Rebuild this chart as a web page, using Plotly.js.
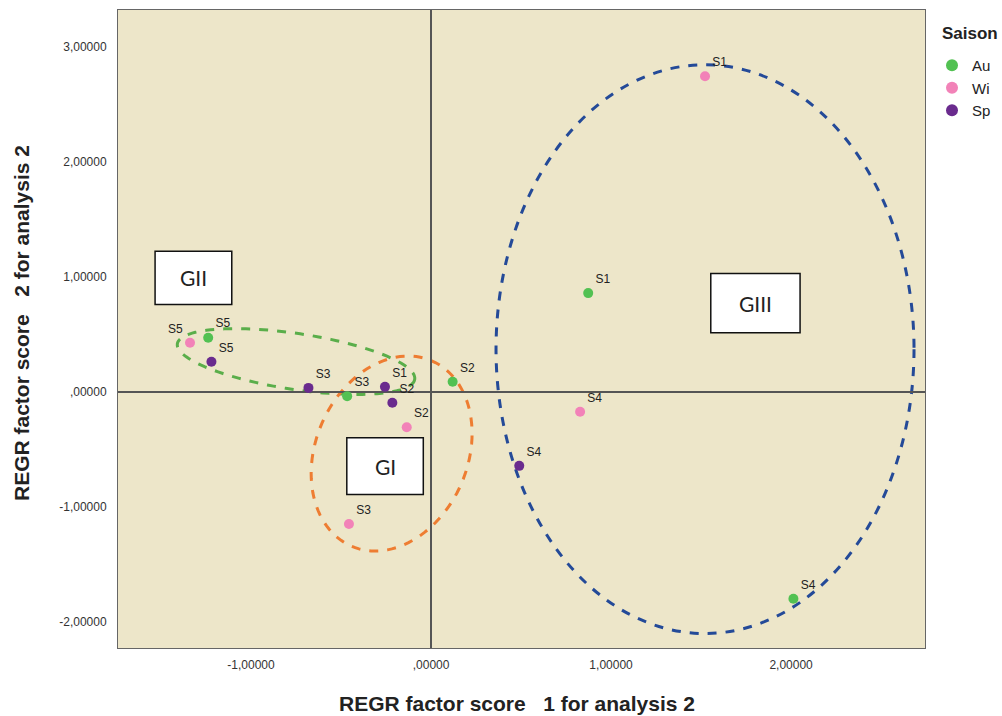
<!DOCTYPE html>
<html><head><meta charset="utf-8">
<script src="https://cdn.plot.ly/plotly-3.0.1.min.js"></script>
<style>body{margin:0;background:#fff}#chart{width:1002px;height:716px}</style>
</head><body><div id="chart"></div>
<script>
// ---- data ----
const seasons = ['Au', 'Wi', 'Sp'];
const siteLabels = ['S1', 'S2', 'S3', 'S4', 'S5'];
const auX = [0.873, 0.120, -0.466, 2.013, -1.238];
const auY = [0.860, 0.089, -0.036, -1.798, 0.472];
const wiX = [1.522, -0.135, -0.456, 0.828, -1.339];
const wiY = [2.746, -0.306, -1.147, -0.172, 0.428];
const spX = [-0.256, -0.215, -0.681, 0.490, -1.220];
const spY = [0.045, -0.094, 0.036, -0.642, 0.263];
const xTickVals = [-1, 0, 1, 2];
const xTickText = ['-1,00000', ',00000', '1,00000', '2,00000'];
const yTickVals = [-2, -1, 0, 1, 2, 3];
const yTickText = ['-2,00000', '-1,00000', ',00000', '1,00000', '2,00000', '3,00000'];
const groupNames = ['GI', 'GII', 'GIII'];
const legendTitle = 'Saison';

// ---- layout geometry ----
const W = 1002, H = 716;
const M = {l: 118, r: 77, t: 10, b: 68, autoexpand: false};
const xRange = [-1.739, 2.744];
const yRange = [-2.226, 3.322];
const pw = W - M.l - M.r, ph = H - M.t - M.b;
const pxX = pw / (xRange[1] - xRange[0]);
const pxY = ph / (yRange[1] - yRange[0]);
const px2paperX = p => (p - M.l) / pw;
const px2paperY = p => (H - M.b - p) / ph;

function ellipsePath(cx, cy, a, b, phiDeg) {
  const phi = phiDeg * Math.PI / 180;
  const c = Math.cos(phi), s = Math.sin(phi);
  let d = '';
  const n = 120;
  for (let i = 0; i <= n; i++) {
    const t = 2 * Math.PI * i / n;
    const dx = a * Math.cos(t) * c - b * Math.sin(t) * s;
    const dy = a * Math.cos(t) * s + b * Math.sin(t) * c;
    const X = cx + dx / pxX, Y = cy - dy / pxY;
    d += (i === 0 ? 'M' : 'L') + X.toFixed(4) + ',' + Y.toFixed(4) + ' ';
  }
  return d + 'Z';
}

const colors = {Au: '#52c152', Wi: '#f282b8', Sp: '#6a2b8e'};
const labelFont = {family: 'Arial, Liberation Sans, sans-serif', size: 12, color: '#222'};

function mk(name, xs, ys, pos) {
  return {
    type: 'scatter', mode: 'markers+text', name: name,
    x: xs, y: ys, text: siteLabels, textposition: pos,
    textfont: labelFont,
    marker: {color: colors[name], size: 10, line: {width: 0}},
    cliponaxis: false, hoverinfo: 'x+y+text'
  };
}

const traces = [
  mk(seasons[0], auX, auY, 'top right'),
  mk(seasons[1], wiX, wiY, ['top right', 'top right', 'top right', 'top right', 'top left']),
  mk(seasons[2], spX, spY, 'top right')
];

const boxStyle = {type: 'rect', xref: 'x', yref: 'y', fillcolor: '#ffffff', line: {color: '#111', width: 1.5}, layer: 'above'};
const boxes = [
  Object.assign({x0: -0.468, x1: -0.043, y0: -0.891, y1: -0.398}, boxStyle),
  Object.assign({x0: -1.533, x1: -1.107, y0: 0.761, y1: 1.224}, boxStyle),
  Object.assign({x0: 1.554, x1: 2.050, y0: 0.515, y1: 1.030}, boxStyle)
];
const boxFont = {family: 'Lato, Open Sans, sans-serif', size: 21, color: '#222'};
const boxLabels = boxes.map((b, i) => ({
  x: (b.x0 + b.x1) / 2, y: (b.y0 + b.y1) / 2, xref: 'x', yref: 'y',
  text: groupNames[i], showarrow: false, font: boxFont
}));

const shapes = [
  {type: 'path', xref: 'x', yref: 'y', layer: 'below', path: ellipsePath(-0.750, 0.265, 120, 28, 8.5),
   line: {color: '#5aae4a', width: 3, dash: 'dash'}},
  {type: 'path', xref: 'x', yref: 'y', layer: 'below', path: ellipsePath(-0.219, -0.535, 101, 76, -66.6),
   line: {color: '#ee7d32', width: 3, dash: 'dash'}},
  {type: 'circle', xref: 'x', yref: 'y', layer: 'below', x0: 0.361, x1: 2.683, y0: -2.100, y1: 2.846,
   line: {color: '#244a98', width: 3, dash: 'dash'}}
].concat(boxes);

const titleFont = {family: 'Arial, Liberation Sans, sans-serif', size: 21, color: '#222'};
const annotations = boxLabels.concat([
  {xref: 'paper', yref: 'paper', x: px2paperX(517), y: px2paperY(703), xanchor: 'center', yanchor: 'middle',
   text: '<b>REGR factor score&nbsp;&nbsp; 1 for analysis 2</b>', showarrow: false, font: titleFont},
  {xref: 'paper', yref: 'paper', x: px2paperX(22), y: px2paperY(323), xanchor: 'center', yanchor: 'middle',
   textangle: -90, text: '<b>REGR factor score&nbsp;&nbsp; 2 for analysis 2</b>', showarrow: false, font: titleFont},
  {xref: 'paper', yref: 'paper', x: px2paperX(999), y: px2paperY(33), xanchor: 'right', yanchor: 'middle',
   text: '<b>' + legendTitle + '</b>', showarrow: false, borderpad: 0,
   font: {family: 'Arial, Liberation Sans, sans-serif', size: 17, color: '#222'}}
]);

const tickFont = {family: 'Arial, Liberation Sans, sans-serif', size: 12, color: '#333'};
const layout = {
  width: W, height: H, margin: M,
  paper_bgcolor: '#ffffff', plot_bgcolor: '#ede6c9',
  showlegend: true,
  legend: {
    x: px2paperX(932), y: px2paperY(49), xanchor: 'left', yanchor: 'top',
    font: {family: 'Arial, Liberation Sans, sans-serif', size: 15, color: '#222'},
    bgcolor: 'rgba(0,0,0,0)', itemsizing: 'constant', tracegroupgap: 0, itemwidth: 30
  },
  xaxis: {
    range: xRange, tickvals: xTickVals, ticktext: xTickText, tickfont: tickFont,
    showgrid: false, zeroline: true, zerolinecolor: '#555', zerolinewidth: 1.5,
    showline: true, linecolor: '#666', linewidth: 1, mirror: true, ticks: '', ticklabelstandoff: 6
  },
  yaxis: {
    range: yRange, tickvals: yTickVals, ticktext: yTickText, tickfont: tickFont,
    showgrid: false, zeroline: true, zerolinecolor: '#555', zerolinewidth: 1.5,
    showline: true, linecolor: '#666', linewidth: 1, mirror: true, ticks: '', ticklabelstandoff: 8
  },
  shapes: shapes,
  annotations: annotations
};

Plotly.newPlot('chart', traces, layout, {displayModeBar: false, staticPlot: true});
</script>
</body></html>
